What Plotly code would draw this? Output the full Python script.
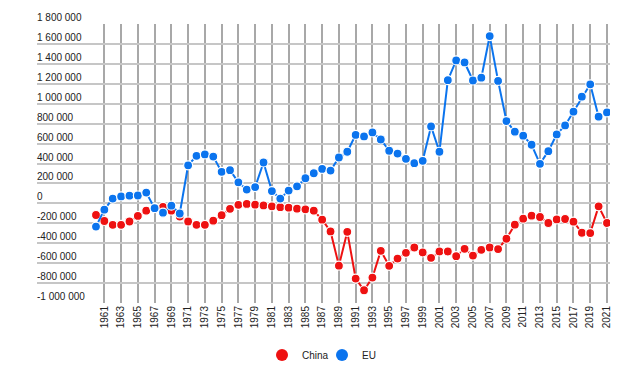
import plotly.graph_objects as go

years = list(range(1960, 2022))

china = [-117000, -177000, -215000, -215000, -182000, -126000, -73000, -46000, -36000, -73000,
         -133000, -182000, -215000, -215000, -174000, -119000, -55000, -15000, -6000, -13000,
         -21000, -30000, -38000, -43000, -53000, -60000, -73000, -164000, -282000, -625000,
         -286000, -755000, -872000, -745000, -476000, -627000, -554000, -496000, -443000, -493000,
         -547000, -483000, -483000, -530000, -456000, -524000, -466000, -443000, -459000, -355000,
         -214000, -154000, -124000, -137000, -197000, -161000, -157000, -184000, -295000, -298000,
         -30000, -197000]

eu = [-233000, -63000, 48000, 70000, 77000, 79000, 108000, -48000, -94000, -23000,
      -102000, 382000, 477000, 491000, 470000, 316000, 333000, 211000, 138000, 163000,
      410000, 123000, 48000, 128000, 171000, 252000, 302000, 346000, 329000, 460000,
      518000, 687000, 672000, 712000, 641000, 528000, 500000, 447000, 403000, 427000,
      772000, 518000, 1236000, 1434000, 1414000, 1233000, 1261000, 1679000, 1229000, 826000,
      719000, 679000, 588000, 397000, 524000, 692000, 782000, 920000, 1071000, 1195000,
      870000, 913000]

y_ticks = [1800000, 1600000, 1400000, 1200000, 1000000, 800000, 600000, 400000, 200000, 0,
           -200000, -400000, -600000, -800000, -1000000]
y_tick_labels = ["1 800 000", "1 600 000", "1 400 000", "1 200 000", "1 000 000", "800 000",
                 "600 000", "400 000", "200 000", "0", "-200 000", "-400 000", "-600 000",
                 "-800 000", "-1 000 000"]
x_ticks = list(range(1961, 2022, 2))
x_tick_labels = [str(y) for y in x_ticks]

RED = "#ee1111"
BLUE = "#0b74ee"
FONT = "Arial, Liberation Sans, sans-serif"
TXT = "#222222"

fig = go.Figure()
for name, vals, col in [("China", china, RED), ("EU", eu, BLUE)]:
    fig.add_trace(go.Scatter(
        x=years, y=vals, mode="lines+markers", name=name, showlegend=False,
        line=dict(color=col, width=2),
        marker=dict(color=col, size=9, line=dict(color="white", width=1.2)),
    ))
    fig.add_trace(go.Scatter(
        x=[None], y=[None], mode="markers", name=name, showlegend=True,
        marker=dict(color=col, size=12),
    ))

for v, t in zip(y_ticks, y_tick_labels):
    fig.add_annotation(x=0, xref="paper", xanchor="left", y=v, yref="y", yanchor="bottom",
                       text=t, showarrow=False, font=dict(family=FONT, size=10, color=TXT),
                       borderpad=0, yshift=0, xshift=-1)

fig.update_layout(
    width=623, height=364,
    margin=dict(l=29, r=21, t=16, b=69, autoexpand=False),
    paper_bgcolor="white", plot_bgcolor="white",
    font=dict(family=FONT, size=10, color=TXT),
    legend=dict(orientation="h", x=0.3927, xanchor="left", y=-0.1864, yanchor="middle",
                font=dict(size=10, color=TXT), itemwidth=30, tracegroupgap=0,
                entrywidth=15, entrywidthmode="pixels"),
    xaxis=dict(range=[1952.96, 2021.36], tickmode="array", tickvals=x_ticks,
               ticktext=x_tick_labels, tickangle=-90, showgrid=True, automargin=False,
               gridcolor="#a8a8a8", gridwidth=1.5, zeroline=False, showline=False,
               ticks="", tickfont=dict(size=10, color=TXT)),
    yaxis=dict(range=[-1000000, 1800000], tickmode="array", tickvals=y_ticks,
               showticklabels=False, automargin=False,
               showgrid=True, gridcolor="#c6c6c6", gridwidth=2, zeroline=False,
               showline=False, ticks=""),
)

fig.write_html("out.html")
